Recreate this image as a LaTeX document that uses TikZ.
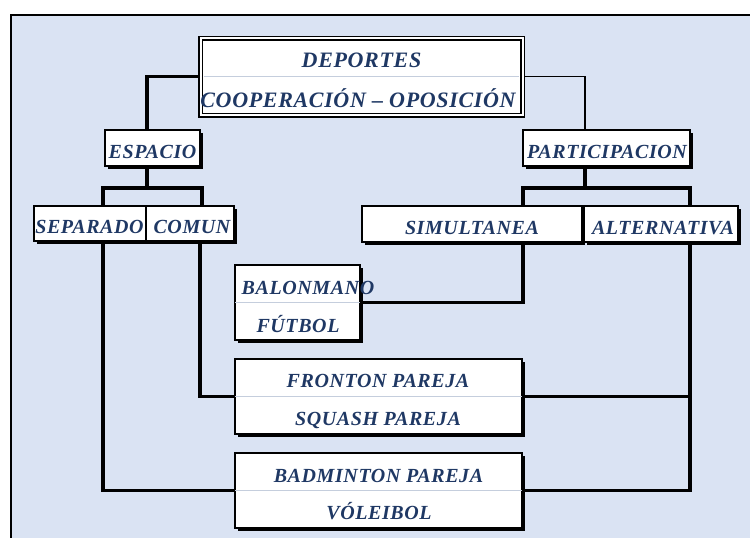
\documentclass[tikz,border=0pt]{standalone}
\usepackage{fontspec}
\setmainfont{Liberation Serif}
\newfontfamily\lblfont{LiberationSerif-BoldItalic.ttf}[LetterSpace=3]
\newfontfamily\ttlfont{LiberationSerif-BoldItalic.ttf}[LetterSpace=3]
\usetikzlibrary{calc,shadows,backgrounds}
\definecolor{bgblue}{HTML}{DAE3F3}
\definecolor{navy}{HTML}{1F3864}
\definecolor{divcol}{HTML}{C5CEDD}
\begin{document}
\begin{tikzpicture}[x=1pt,y=-1pt,
  lbl/.style={font=\lblfont\fontsize{20}{22}\selectfont, text=navy, inner sep=0pt, anchor=base},
  ttl/.style={font=\ttlfont\fontsize{22}{24}\selectfont, text=navy, inner sep=0pt, anchor=base},
  box/.style={draw=black, line width=2pt, fill=white, inner sep=0pt,
    drop shadow={shadow xshift=3pt, shadow yshift=-3pt, fill=black, opacity=1}},
  dbox/.style={draw=black, line width=1.5pt, double=white, double distance=2pt, fill=white, inner sep=0pt,
    drop shadow={shadow xshift=1pt, shadow yshift=-1pt, fill=black, opacity=1}},
  conn/.style={line width=3.5pt, black},
  thinconn/.style={line width=1.8pt, black},
  divline/.style={draw=divcol, line width=1.2pt}
]
\useasboundingbox (0,0) rectangle (750,538);

% boxes
\node[dbox, minimum width=322pt, minimum height=77pt] (title) at (361.5,76.5) {};
\node[box, minimum width=95pt, minimum height=36pt] (espacio) at (152.5,148) {};
\node[box, minimum width=167pt, minimum height=36pt] (particip) at (606.5,148) {};
\node[box, minimum width=112pt, minimum height=35pt] (separado) at (90,223.5) {};
\node[box, minimum width=88pt, minimum height=35pt] (comun) at (190,223.5) {};
\node[box, minimum width=220pt, minimum height=36pt] (simult) at (472,224) {};
\node[box, minimum width=154pt, minimum height=36pt] (altern) at (661,224) {};
\node[box, minimum width=125pt, minimum height=75pt] (balon) at (297.5,302.5) {};
\node[box, minimum width=287pt, minimum height=75pt] (fronton) at (378.5,396.5) {};
\node[box, minimum width=287pt, minimum height=75pt] (badm) at (378.5,490.5) {};

% dividers
\draw[divline] ($(title.west)+(4,0)$) -- ($(title.east)+(-4,0)$);
\draw[divline] ($(balon.west)+(1,0)$) -- ($(balon.east)+(-1,0)$);
\draw[divline] ($(fronton.west)+(1,0)$) -- ($(fronton.east)+(-1,0)$);
\draw[divline] ($(badm.west)+(1,0)$) -- ($(badm.east)+(-1,0)$);

% texts
\node[ttl] (tDep) at (361.5,67) {DEPORTES};
\node[ttl] (tCoop) at (358,107) {COOPERACIÓN – OPOSICIÓN};
\node[lbl] (tEsp) at (152.5,158) {ESPACIO};
\node[lbl] (tPar) at (607,158) {PARTICIPACION};
\node[lbl] (tSep) at (89.5,233) {SEPARADO};
\node[lbl] (tCom) at (192,233) {COMUN};
\node[lbl] (tSim) at (472,234) {SIMULTANEA};
\node[lbl] (tAlt) at (663,234) {ALTERNATIVA};
\node[lbl] (tBal) at (308,294) {BALONMANO};
\node[lbl] (tFut) at (298,332) {FÚTBOL};
\node[lbl] (tFro) at (378,387) {FRONTON PAREJA};
\node[lbl] (tSqu) at (378,425) {SQUASH PAREJA};
\node[lbl] (tBad) at (378.5,482) {BADMINTON PAREJA};
\node[lbl] (tVol) at (379,519) {VÓLEIBOL};

\begin{scope}[on background layer]
  \fill[bgblue] (11,15) rectangle (750,538);
  \draw[line width=2pt] (11,538) -- (11,15) -- (750,15);
  % title to first level
  \draw[conn] (title.west) -| ($(espacio.north)+(-5.5,0)$);
  \draw[thinconn] (title.east) -| ($(particip.north)+(-21.5,0)$);
  % espacio tree
  \coordinate (e1) at ($(espacio.south)+(-5.5,21)$);
  \draw[conn] ($(espacio.south)+(-5.5,0)$) -- (e1);
  \draw[conn] ($(separado.north)+(13,0)$) |- (e1) -| ($(comun.north)+(12,0)$);
  % participacion tree
  \coordinate (p1) at ($(particip.south)+(-21.5,21)$);
  \draw[conn] ($(particip.south)+(-21.5,0)$) -- (p1);
  \draw[conn] ($(simult.north)+(51,0)$) |- (p1) -| ($(altern.north)+(29,0)$);
  % lower connections
  \draw[conn] ($(simult.south)+(51,0)$) |- (balon.east);
  \draw[conn] ($(comun.south)+(10,0)$) |- (fronton.west);
  \draw[conn] ($(separado.south)+(13,0)$) |- (badm.west);
  \draw[conn] ($(altern.south)+(29,0)$) |- (badm.east);
  \draw[conn] (fronton.east) -| ($(altern.south)+(29,0)$);
\end{scope}
\end{tikzpicture}
\end{document}
